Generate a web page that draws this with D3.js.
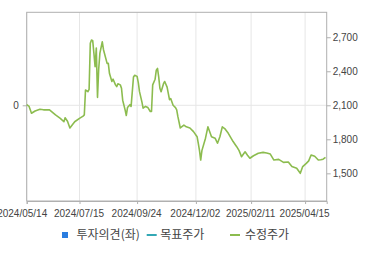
<!DOCTYPE html>
<html>
<head>
<meta charset="utf-8">
<script src="https://cdn.jsdelivr.net/npm/d3@7"></script>
<style>
  body { margin: 0; background: #fff; }
  svg { display: block; font-family: "Liberation Sans", Arial, sans-serif; }
</style>
</head>
<body>
<svg width="370" height="255"></svg>
<script>
// trading-day index (0 = 2024/05/14) and adjusted close
var days = [0, 2, 4, 7, 11, 14, 19, 24, 28, 31, 32, 34, 36, 40, 44, 47, 48, 49, 51, 52, 53, 54, 55, 56, 57, 58, 59, 60, 61, 63, 64, 67, 68, 69, 71, 72, 74, 75, 76, 78, 79, 80, 82, 83, 84, 86, 87, 89, 90, 92, 93, 94, 96, 97, 99, 101, 103, 104, 105, 107, 108, 109, 110, 111, 112, 114, 115, 117, 118, 119, 120, 122, 124, 125, 126, 128, 131, 133, 136, 139, 142, 143, 144, 145, 146, 149, 151, 154, 157, 159, 161, 163, 165, 168, 172, 175, 177, 179, 182, 184, 186, 189, 193, 197, 200, 203, 206, 210, 214, 218, 221, 225, 228, 230, 233, 235, 237, 240, 243, 245, 247, 249];
var price = [2105, 2090, 2030, 2050, 2065, 2060, 2060, 2015, 1985, 1955, 1990, 1960, 1900, 1955, 1985, 2005, 2015, 2235, 2220, 2240, 2647, 2676, 2670, 2560, 2440, 2605, 2170, 2420, 2560, 2660, 2590, 2470, 2470, 2380, 2310, 2330, 2280, 2265, 2290, 2280, 2250, 2145, 2060, 2010, 2080, 2105, 2090, 2350, 2365, 2355, 2300, 2220, 2130, 2075, 2090, 2080, 2045, 2045, 2280, 2330, 2410, 2425, 2350, 2250, 2220, 2290, 2310, 2260, 2205, 2150, 2160, 2100, 2080, 2060, 2000, 1900, 1925, 1910, 1900, 1868, 1823, 1765, 1700, 1617, 1700, 1810, 1910, 1823, 1810, 1765, 1823, 1910, 1895, 1853, 1780, 1735, 1700, 1647, 1690, 1660, 1633, 1655, 1677, 1685, 1680, 1670, 1617, 1623, 1597, 1600, 1560, 1545, 1500, 1560, 1588, 1610, 1662, 1650, 1617, 1620, 1625, 1641];

var tickDays = [0, 44, 92, 141, 187, 232];
var tickLabels = ["2024/05/14", "2024/07/15", "2024/09/24", "2024/12/02", "2025/02/11", "2025/04/15"];
var priceTicks = [1500, 1800, 2100, 2400, 2700];

var legendNames = ["투자의견(좌)", "목표주가", "수정주가"];
var legendColors = ["#2b7de0", "#33a8b5", "#8cbc4f"];

var plotL = 26.7, plotR = 326.7, plotT = 12.3, plotB = 201;

var svg = d3.select("svg");

var x = d3.scaleLinear().domain([0, 250]).range([plotL, plotR]);
var y = d3.scaleLinear().domain([1256, 2920]).range([plotB, plotT]);

// vertical grid
svg.append("g")
  .selectAll("line")
  .data(tickDays)
  .join("line")
  .attr("x1", d => x(d)).attr("x2", d => x(d))
  .attr("y1", plotT).attr("y2", plotB)
  .attr("stroke", "#e6e6e6");

// horizontal grid for the left "0"
svg.append("line")
  .attr("x1", plotL).attr("x2", plotR)
  .attr("y1", y(2100)).attr("y2", y(2100))
  .attr("stroke", "#e6e6e6");

// frame
svg.append("rect")
  .attr("x", plotL).attr("y", plotT)
  .attr("width", plotR - plotL).attr("height", plotB - plotT)
  .attr("fill", "none").attr("stroke", "#b0b0b0");

// bottom axis
var xAxis = d3.axisBottom(x)
  .tickValues(tickDays)
  .tickFormat((d, i) => tickLabels[i])
  .tickSize(3)
  .tickPadding(6);
var gx = svg.append("g").attr("transform", "translate(0," + plotB + ")").call(xAxis);
gx.select(".domain").attr("stroke", "#b0b0b0");
gx.selectAll(".tick line").attr("stroke", "#b0b0b0");
gx.selectAll("text").attr("fill", "#444").style("font-size", "10px")
  .attr("dx", (d, i) => i === 0 ? -5 : -1);

// right axis
var yAxis = d3.axisRight(y)
  .tickValues(priceTicks)
  .tickFormat(d3.format(","))
  .tickSize(4)
  .tickPadding(2);
var gy = svg.append("g").attr("transform", "translate(" + plotR + ",0)").call(yAxis);
gy.select(".domain").remove();
gy.selectAll(".tick line").attr("stroke", "#b0b0b0");
gy.selectAll("text").attr("fill", "#444").style("font-size", "10px");

// left axis, single "0"
var gl = svg.append("g").attr("transform", "translate(" + plotL + ",0)")
  .call(d3.axisLeft(y).tickValues([2100]).tickFormat(() => "0").tickSize(4).tickPadding(4));
gl.select(".domain").remove();
gl.selectAll(".tick line").attr("stroke", "#b0b0b0");
gl.selectAll("text").attr("fill", "#444").style("font-size", "10px");

// price line
var line = d3.line()
  .x((d, i) => x(days[i]))
  .y(d => y(d));
svg.append("path")
  .datum(price)
  .attr("d", line)
  .attr("fill", "none")
  .attr("stroke", legendColors[2])
  .attr("stroke-width", 1.6)
  .attr("stroke-linejoin", "round");

// legend
var legendX = [62, 146.7, 230];
var lg = svg.append("g")
  .selectAll("g")
  .data(legendNames)
  .join("g")
  .attr("transform", (d, i) => "translate(" + legendX[i] + ",235)");
lg.each(function (d, i) {
  var g = d3.select(this);
  if (i === 0) {
    g.append("rect").attr("x", 0).attr("y", -3).attr("width", 6).attr("height", 6).attr("fill", legendColors[0]);
  } else {
    g.append("line").attr("x1", 0).attr("x2", 10).attr("y1", 0).attr("y2", 0)
      .attr("stroke", legendColors[i]).attr("stroke-width", 2);
  }
  g.append("text")
    .attr("x", i === 0 ? 14.5 : (i === 1 ? 13.5 : 15))
    .attr("dy", "0.35em")
    .attr("fill", "#444")
    .style("font-family", "'Noto Sans CJK KR', sans-serif")
    .style("font-size", "12px")
    .text(d);
});
</script>
</body>
</html>
